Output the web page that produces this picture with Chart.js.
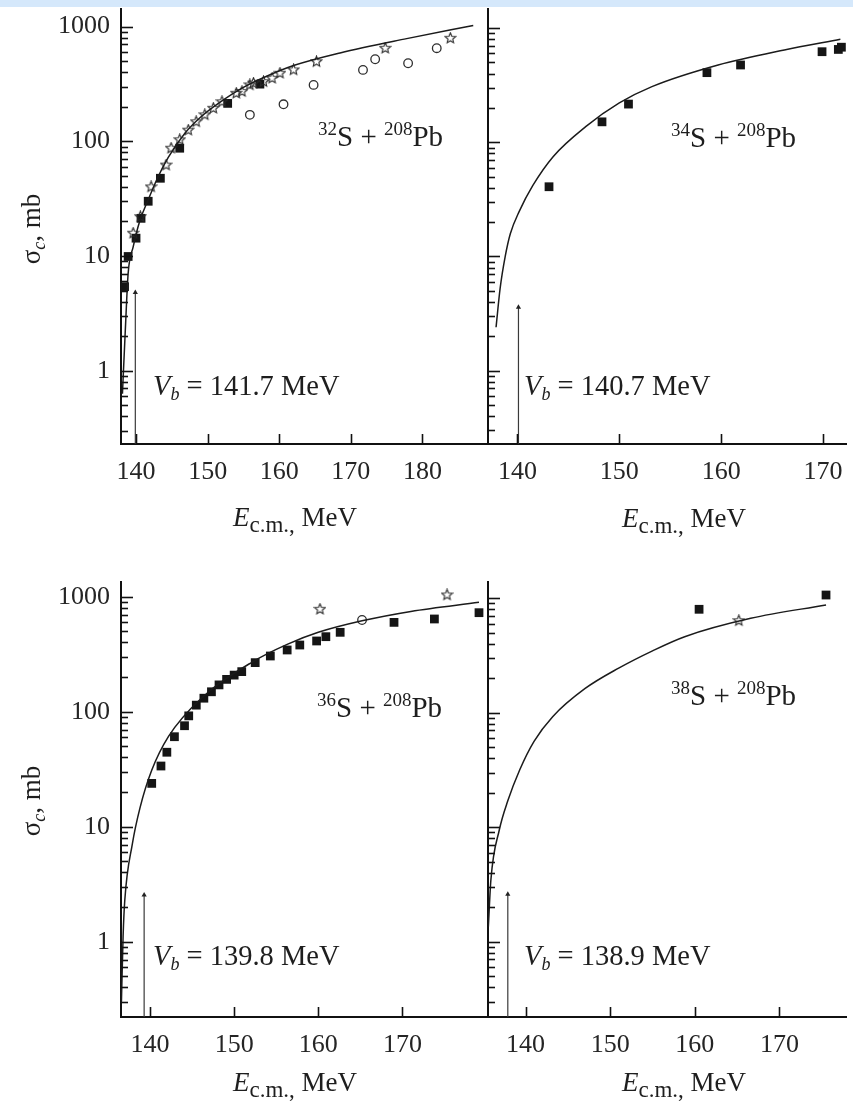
<!DOCTYPE html>
<html>
<head>
<meta charset="utf-8">
<script src="https://cdn.jsdelivr.net/npm/chart.js@4.4.0/dist/chart.umd.min.js"></script>
<style>
html,body{margin:0;padding:0;background:#fff;}
#wrap{position:relative;width:853px;height:1101px;overflow:hidden;background:#fff;}
canvas.c{position:absolute;left:0;top:0;}
.t{position:absolute;font-family:'Liberation Serif','Times New Roman',serif;font-size:27px;line-height:27px;color:#1e1e1e;white-space:nowrap;}
.rx{font-size:29px;line-height:29px;}
.vb{font-size:28.5px;line-height:28px;}
.sup{font-size:19px;position:relative;top:-11px;}
.sub{font-size:23px;position:relative;top:6px;}
.sub2{font-size:18px;position:relative;top:5px;}
.ctr{width:400px;text-align:center;}
.rot{width:200px;text-align:center;transform-origin:50% 50%;transform:rotate(-90deg);}
</style>
</head>
<body>
<div id="wrap">
<div style="position:absolute;left:0;top:0;width:853px;height:7px;background:#d5e8fb"></div>
<canvas class="c" id="c1" width="853" height="1101"></canvas>
<canvas class="c" id="c2" width="853" height="1101"></canvas>
<canvas class="c" id="c3" width="853" height="1101"></canvas>
<canvas class="c" id="c4" width="853" height="1101"></canvas>

<div class="t rot" style="left:-67px;top:214px;">σ<span class="sub2"><i>c</i></span>, mb</div>
<div class="t rot" style="left:-67px;top:786px;">σ<span class="sub2"><i>c</i></span>, mb</div>

<div class="t ctr" style="left:95px;top:504px;"><i>E</i><span class="sub">c.m.,</span> MeV</div>
<div class="t ctr" style="left:484px;top:505px;"><i>E</i><span class="sub">c.m.,</span> MeV</div>
<div class="t ctr" style="left:95px;top:1069px;"><i>E</i><span class="sub">c.m.,</span> MeV</div>
<div class="t ctr" style="left:484px;top:1069px;"><i>E</i><span class="sub">c.m.,</span> MeV</div>

<div class="t rx" style="left:318px;top:122px;"><span class="sup">32</span>S + <span class="sup">208</span>Pb</div>
<div class="t rx" style="left:671px;top:123px;"><span class="sup">34</span>S + <span class="sup">208</span>Pb</div>
<div class="t rx" style="left:317px;top:693px;"><span class="sup">36</span>S + <span class="sup">208</span>Pb</div>
<div class="t rx" style="left:671px;top:681px;"><span class="sup">38</span>S + <span class="sup">208</span>Pb</div>

<div class="t vb" style="left:153px;top:372px;"><i>V</i><span class="sub2"><i>b</i></span> = 141.7 MeV</div>
<div class="t vb" style="left:524px;top:372px;"><i>V</i><span class="sub2"><i>b</i></span> = 140.7 MeV</div>
<div class="t vb" style="left:153px;top:942px;"><i>V</i><span class="sub2"><i>b</i></span> = 139.8 MeV</div>
<div class="t vb" style="left:524px;top:942px;"><i>V</i><span class="sub2"><i>b</i></span> = 138.9 MeV</div>
</div>

<script>
// ---------- tick labels ----------
const yTickValues = [1, 10, 100, 1000];
const yTickLabels = ['1', '10', '100', '1000'];
const xTicksTopLeft = [140, 150, 160, 170, 180];
const xTicksOther = [140, 150, 160, 170];

// ---------- 32S + 208Pb ----------
const s32CurveE     = [138.1, 138.5, 138.9, 139.6, 140.5, 141.7, 143.0, 144.5, 146.8, 149.0, 151.5, 155.0, 158.0, 162.0, 168.5, 177.8, 187.1];
const s32CurveSigma = [0.63,  2.24,  7.08,  12.0,  20.0,  30.9,  47.9,  72.4,  117,   162,   214,   295,   363,   457,   589,   785,   1023];
const s32StarE      = [139.6, 140.6, 142.1, 144.2, 144.9, 146.1, 147.3, 148.4, 149.6, 150.8, 152.0, 154.0, 154.8, 155.9, 156.4, 157.8, 159.0, 160.1, 162.0, 165.2, 174.8, 183.9];
const s32StarSigma  = [15.8,  22,    40,    62,    87,    103,   125,   148,   170,   194,   221,   262,   271,   310,   321,   331,   354,   392,   419,   494,   647,   791];
const s32SquareE     = [138.4, 138.9, 140.0, 140.7, 141.7, 143.4, 146.1, 152.8, 157.3];
const s32SquareSigma = [5.4,   9.9,   14.3,  21.3,  30,    47.6,  87,    214,   315];
const s32CircleE     = [155.9, 160.6, 164.8, 171.7, 173.4, 178.0, 182.0];
const s32CircleSigma = [170,   210,   310,   419,   519,   479,   648];
const s32ArrowE = 139.9, s32ArrowTop = 4.8;

// ---------- 34S + 208Pb ----------
const s34CurveE     = [137.9, 138.3, 138.8, 139.3, 140.2, 141.5, 143.5, 146.7, 150.0, 153.2, 159.7, 166.2, 171.7];
const s34CurveSigma = [2.4,   5.25,  10,    15.8,  25.1,  41.7,  74.8,  137,   221,   307,   475,   643,   798];
const s34SquareE     = [143.1, 148.3, 150.9, 158.6, 161.9, 169.9, 171.5, 171.8];
const s34SquareSigma = [40.8,  151,   216,   407,   475,   621,   650,   680];
const s34ArrowE = 140.1, s34ArrowTop = 3.6;

// ---------- 36S + 208Pb ----------
const s36CurveE     = [136.6, 136.8, 137.0, 137.9, 138.8, 140.2, 142.2, 146.1, 152.1, 156.3, 160.0, 165.2, 171.0, 179.1];
const s36CurveSigma = [0.3,   1.12,  2.29,  7.08,  14.5,  30.9,  61,    131,   269,   385,   490,   617,   745,   893];
const s36SquareE     = [140.2, 141.3, 142.0, 142.9, 144.1, 144.6, 145.5, 146.4, 147.3, 148.2, 149.1, 150.0, 150.9, 152.5, 154.3, 156.3, 157.8, 159.8, 160.9, 162.6, 169.0, 173.8, 179.1];
const s36SquareSigma = [23.8,  33.7,  44.4,  60.6,  75.5,  92,    114,   131,   149,   171,   191,   208,   223,   267,   305,   344,   380,   412,   449,   490,   598,   640,   726];
const s36StarE      = [160.2, 175.3];
const s36StarSigma  = [777,   1035];
const s36CircleE     = [165.2];
const s36CircleSigma = [627];
const s36ArrowE = 139.3, s36ArrowTop = 2.55;

// ---------- 38S + 208Pb ----------
const s38CurveE     = [135.6, 135.9, 136.9, 137.9, 139.3, 141.0, 143.2, 147.0, 151.0, 155.0, 158.8, 166.6, 175.5];
const s38CurveSigma = [1.35,  3.46,  9.5,   17.0,  31.6,  56.2,  92.3,  162,   245,   347,   461,   667,   873];
const s38SquareE     = [160.5, 175.5];
const s38SquareSigma = [800,   1066];
const s38StarE      = [165.2];
const s38StarSigma  = [636];
const s38ArrowE = 137.9, s38ArrowTop = 2.6;

// ---------- helpers ----------
function pts(xs, ys) { return xs.map((x, i) => ({ x: x, y: ys[i] })); }

function makeStar(size) {
  const c = document.createElement('canvas');
  c.width = size; c.height = size;
  const g = c.getContext('2d');
  const cx = size / 2, cy = size / 2, R = size / 2 - 1, r = R * 0.45;
  g.beginPath();
  for (let i = 0; i < 10; i++) {
    const ang = -Math.PI / 2 + i * Math.PI / 5;
    const rr = (i % 2) ? r : R;
    g.lineTo(cx + rr * Math.cos(ang), cy + rr * Math.sin(ang));
  }
  g.closePath();
  g.strokeStyle = '#2a2a2a';
  g.lineWidth = 1.1;
  g.stroke();
  return c;
}
const starImg = makeStar(13);

const innerTicks = {
  id: 'innerTicks',
  afterDraw(chart) {
    const ctx = chart.ctx, xs = chart.scales.x, ys = chart.scales.y, a = chart.chartArea;
    ctx.save();
    ctx.strokeStyle = '#111';
    ctx.lineWidth = 1.6;
    for (let k = -1; k <= 3; k++) {
      for (let m = 1; m <= 9; m++) {
        const v = m * Math.pow(10, k);
        if (v < ys.min || v > ys.max) continue;
        const py = Math.round(ys.getPixelForValue(v)) + 0.5;
        const len = (m === 1) ? 12 : 7;
        ctx.beginPath(); ctx.moveTo(a.left, py); ctx.lineTo(a.left + len, py); ctx.stroke();
      }
    }
    xs.ticks.forEach(t => {
      const px = Math.round(xs.getPixelForValue(t.value)) + 0.5;
      ctx.beginPath(); ctx.moveTo(px, a.bottom); ctx.lineTo(px, a.bottom - 10); ctx.stroke();
    });
    ctx.restore();
  }
};

const tickFont = { family: "'Liberation Serif', 'Times New Roman', serif", size: 26 };

function build(id, cfg) {
  const Wy = 70, Hx = 60;
  const a = cfg.area;
  const ds = [];
  ds.push({ data: pts(cfg.curveE, cfg.curveS), showLine: true, borderColor: '#1b1b1b', borderWidth: 1.5,
            pointRadius: 0, cubicInterpolationMode: 'monotone', fill: false });
  ds.push({ data: [{ x: cfg.arrowE, y: cfg.y[0] }, { x: cfg.arrowE, y: cfg.arrowTop }], showLine: true,
            borderColor: '#3a3a3a', borderWidth: 1.2, pointRadius: [0, 3], pointStyle: 'triangle',
            pointBackgroundColor: '#222', pointBorderWidth: 0, clip: false });
  if (cfg.circles) ds.push({ data: cfg.circles, pointStyle: 'circle', pointRadius: 4.3, borderWidth: 1.3,
            borderColor: '#2e2e2e', backgroundColor: 'rgba(0,0,0,0)', clip: false });
  if (cfg.stars) ds.push({ data: cfg.stars, pointStyle: starImg, pointRadius: 6, clip: false });
  if (cfg.squares) ds.push({ data: cfg.squares, pointStyle: 'rect', pointRadius: 6.2, borderWidth: 0,
            backgroundColor: '#151515', clip: false });

  return new Chart(document.getElementById(id), {
    type: 'scatter',
    data: { datasets: ds },
    plugins: [innerTicks],
    options: {
      responsive: false, animation: false, devicePixelRatio: 1, events: [],
      layout: { padding: { left: a.l - Wy, top: a.t, right: 853 - a.r, bottom: 1101 - a.b - Hx } },
      plugins: { legend: { display: false }, tooltip: { enabled: false } },
      scales: {
        x: {
          type: 'linear', position: 'bottom', min: cfg.x[0], max: cfg.x[1],
          afterBuildTicks: s => { s.ticks = cfg.xt.map(v => ({ value: v })); },
          afterFit: s => { s.height = Hx; s.paddingLeft = 0; s.paddingRight = 0; s.paddingTop = 0; s.paddingBottom = 0; },
          grid: { display: false, drawTicks: false },
          border: { display: true, color: '#111', width: 2 },
          ticks: { font: tickFont, color: '#252525', padding: 13, maxRotation: 0, minRotation: 0, autoSkip: false,
                   callback: (v, i) => String(cfg.xt[i]) }
        },
        y: {
          type: 'logarithmic', position: 'left', min: cfg.y[0], max: cfg.y[1],
          afterBuildTicks: s => { s.ticks = yTickValues.map(v => ({ value: v })); },
          afterFit: s => { s.width = Wy; s.paddingLeft = 0; s.paddingRight = 0; s.paddingTop = 0; s.paddingBottom = 0; },
          grid: { display: false, drawTicks: false },
          border: { display: true, color: '#111', width: 2 },
          ticks: { display: cfg.yLabels, font: tickFont, color: '#252525', padding: 11, autoSkip: false,
                   callback: (v, i) => yTickLabels[i] }
        }
      }
    }
  });
}

build('c1', { area: { l: 121, r: 488, t: 9, b: 444 }, x: [137.9, 189.16], y: [0.2296, 1423], xt: xTicksTopLeft, yLabels: true,
  curveE: s32CurveE, curveS: s32CurveSigma, arrowE: s32ArrowE, arrowTop: s32ArrowTop,
  circles: pts(s32CircleE, s32CircleSigma), stars: pts(s32StarE, s32StarSigma), squares: pts(s32SquareE, s32SquareSigma) });

build('c2', { area: { l: 488, r: 850, t: 9, b: 444 }, x: [137.11, 172.33], y: [0.228, 1469], xt: xTicksOther, yLabels: false,
  curveE: s34CurveE, curveS: s34CurveSigma, arrowE: s34ArrowE, arrowTop: s34ArrowTop,
  squares: pts(s34SquareE, s34SquareSigma) });

build('c3', { area: { l: 121, r: 488, t: 582, b: 1017 }, x: [136.55, 180.17], y: [0.2214, 1342], xt: xTicksOther, yLabels: true,
  curveE: s36CurveE, curveS: s36CurveSigma, arrowE: s36ArrowE, arrowTop: s36ArrowTop,
  circles: pts(s36CircleE, s36CircleSigma), stars: pts(s36StarE, s36StarSigma), squares: pts(s36SquareE, s36SquareSigma) });

build('c4', { area: { l: 488, r: 850, t: 582, b: 1017 }, x: [135.56, 177.86], y: [0.22, 1385], xt: xTicksOther, yLabels: false,
  curveE: s38CurveE, curveS: s38CurveSigma, arrowE: s38ArrowE, arrowTop: s38ArrowTop,
  stars: pts(s38StarE, s38StarSigma), squares: pts(s38SquareE, s38SquareSigma) });
</script>
</body>
</html>
